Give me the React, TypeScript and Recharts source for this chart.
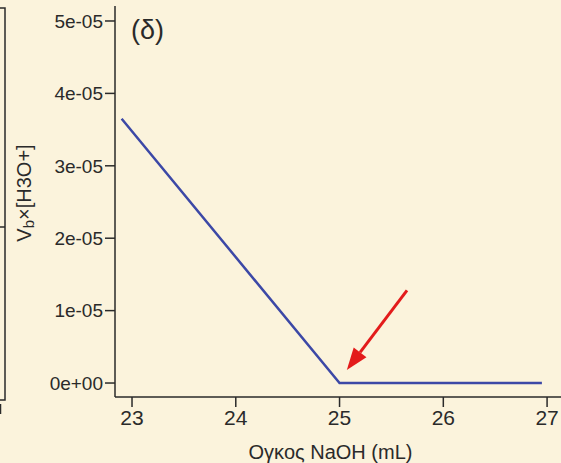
import React from "react";
import {
  LineChart,
  Line,
  XAxis,
  YAxis,
  ReferenceLine,
} from "recharts";

// volume of NaOH (mL) and Vb x [H3O+]
const volume = [22.9, 25, 26.95];
const product = [3.65e-5, 0, 0];

const xTicks = [23, 24, 25, 26, 27];
const yTicks = [0, 1e-5, 2e-5, 3e-5, 4e-5, 5e-5];

// arrow pointing at the equivalence point
const arrowTail = { x: 25.65, y: 1.28e-5 };
const arrowTip = { x: 25.07, y: 0.18e-5 };

const data = volume.map((v, i) => ({ v, p: product[i] }));

const FONT = '"Liberation Sans", Arial, Helvetica, sans-serif';
const INK = "#2a2a2a";
const X_DOMAIN = [22.836, 27.51];

function sci(v: number) {
  const [m, e] = v.toExponential(0).split("e");
  const n = parseInt(e, 10);
  return `${m}e${n < 0 ? "-" : "+"}${String(Math.abs(n)).padStart(2, "0")}`;
}

function Arrow(props: any) {
  const { x1, y1, x2, y2 } = props;
  const ang = Math.atan2(y2 - y1, x2 - x1);
  const len = 22;
  const half = 8;
  const bx = x2 - len * Math.cos(ang);
  const by = y2 - len * Math.sin(ang);
  const px = -Math.sin(ang) * half;
  const py = Math.cos(ang) * half;
  return (
    <g>
      <line x1={x1} y1={y1} x2={bx} y2={by} stroke="#e31b1b" strokeWidth={3} />
      <polygon
        points={`${x2},${y2} ${bx + px},${by + py} ${bx - px},${by - py}`}
        fill="#e31b1b"
      />
    </g>
  );
}

export default function App() {
  return (
    <div
      style={{
        position: "absolute",
        left: 0,
        top: 0,
        width: 561,
        height: 463,
        overflow: "hidden",
        background: "#fbf3dc",
        fontFamily: FONT,
      }}
    >
      <LineChart
        width={600}
        height={463}
        data={data}
        margin={{ top: 6, right: 0, left: 0, bottom: 0 }}
      >
        <XAxis
          dataKey="v"
          type="number"
          domain={X_DOMAIN}
          ticks={xTicks}
          allowDataOverflow
          height={66}
          tickSize={10}
          tickMargin={3}
          tick={{ fontSize: 21, fill: INK, fontFamily: FONT }}
          axisLine={{ stroke: INK, strokeWidth: 1.5 }}
          tickLine={{ stroke: INK, strokeWidth: 1.5 }}
          label={{
            value: "Ογκος NaOH (mL)",
            position: "insideBottom",
            offset: 4,
            dx: -27,
            fontSize: 20,
            fill: INK,
            fontFamily: FONT,
          }}
        />
        <XAxis
          xAxisId="top"
          dataKey="v"
          type="number"
          orientation="top"
          domain={X_DOMAIN}
          height={0}
          tick={false}
          tickLine={false}
          axisLine={{ stroke: INK, strokeWidth: 1.5 }}
        />
        <YAxis
          type="number"
          domain={[-0.193e-5, 5.207e-5]}
          ticks={yTicks}
          allowDataOverflow
          width={115}
          tickSize={10}
          tickMargin={2}
          tickFormatter={sci}
          tick={{ fontSize: 19, fill: INK, fontFamily: FONT }}
          axisLine={{ stroke: INK, strokeWidth: 1.5 }}
          tickLine={{ stroke: INK, strokeWidth: 1.5 }}
        />
        <Line
          dataKey="p"
          type="linear"
          stroke="#3c48a6"
          strokeWidth={2.5}
          dot={false}
          isAnimationActive={false}
        />
        <ReferenceLine
          segment={[arrowTail, arrowTip]}
          shape={Arrow}
          ifOverflow="visible"
        />
      </LineChart>
      <svg
        width={561}
        height={463}
        style={{ position: "absolute", left: 0, top: 0, pointerEvents: "none" }}
      >
        <path d="M0,8 H5 V400 H0" fill="none" stroke={INK} strokeWidth={1.5} />
        <line x1={0} y1={227} x2={5} y2={227} stroke={INK} strokeWidth={1.5} />
        <line x1={0.5} y1={404} x2={0.5} y2={414} stroke={INK} strokeWidth={1.5} />
        <text x={131} y={39} fontSize={27} fill={INK} fontFamily={FONT}>
          (δ)
        </text>
        <text
          transform="translate(31,193) rotate(-90)"
          textAnchor="middle"
          fontSize={20}
          fill={INK}
          fontFamily={FONT}
        >
          V
          <tspan fontSize={15} dy={3}>
            b
          </tspan>
          <tspan dy={-3}>×[H3O+]</tspan>
        </text>
      </svg>
    </div>
  );
}
